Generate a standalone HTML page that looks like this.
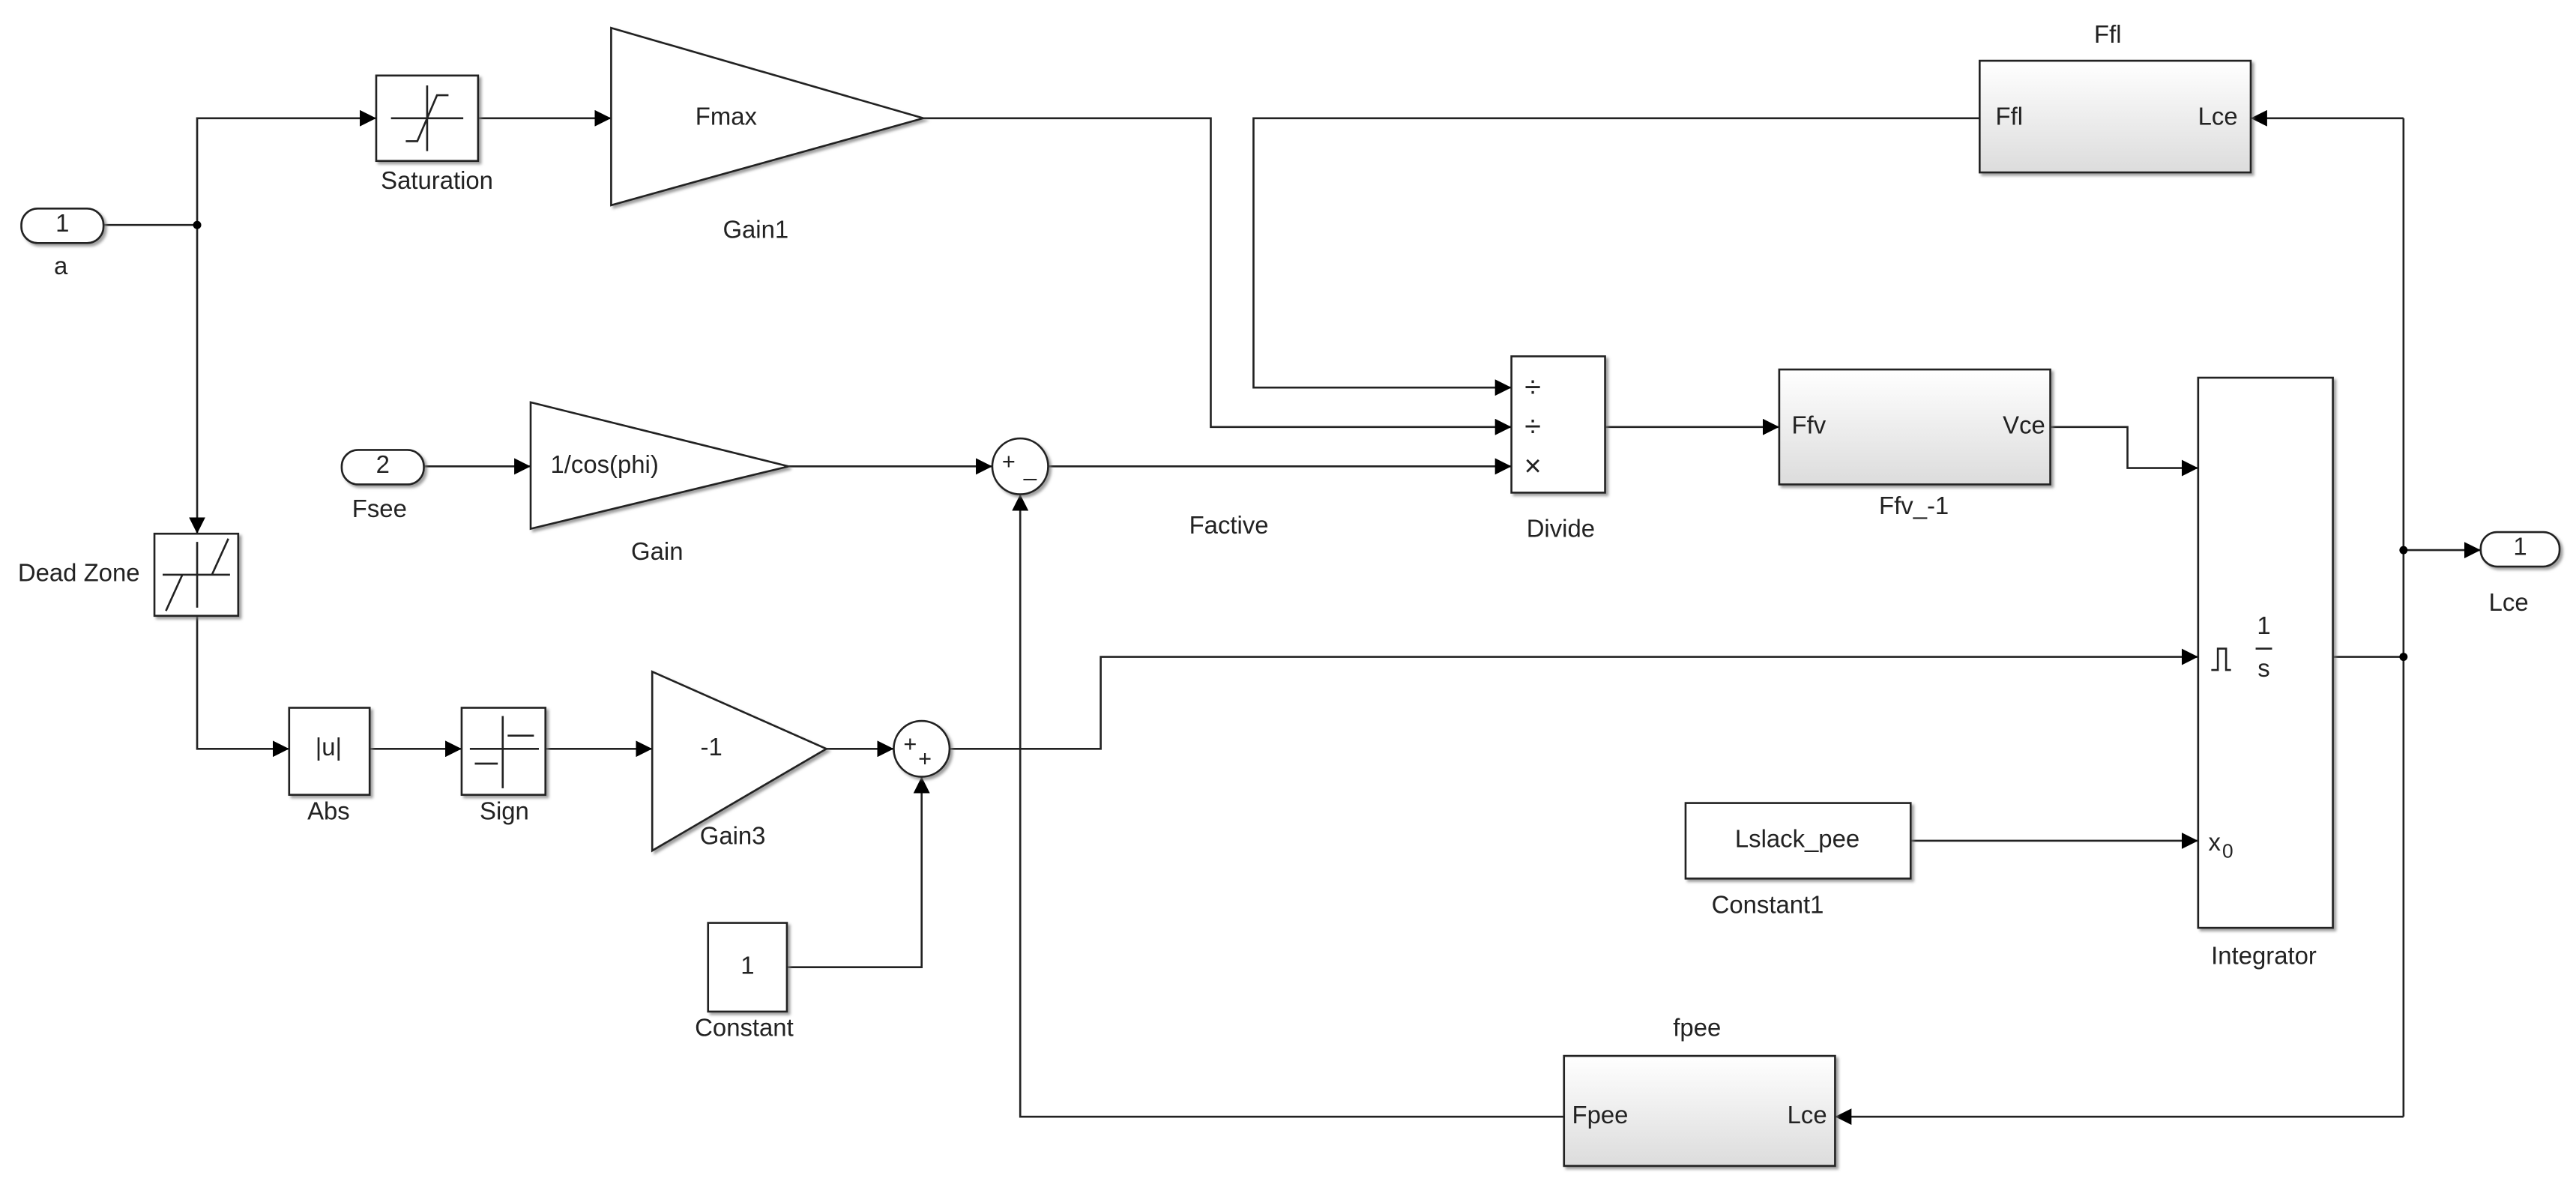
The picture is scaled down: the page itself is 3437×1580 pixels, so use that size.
<!DOCTYPE html>
<html><head><meta charset="utf-8"><style>
html,body{margin:0;padding:0;background:#fff}
svg{display:block}
text{font-family:"Liberation Sans",Arial,sans-serif;fill:#222}
</style></head><body>
<svg width="3437" height="1580" viewBox="0 0 1568 721" preserveAspectRatio="none" xmlns="http://www.w3.org/2000/svg">
<defs>
<marker id="a" viewBox="0 0 10 10" refX="10" refY="5" markerWidth="10" markerHeight="10" markerUnits="userSpaceOnUse" orient="auto"><path d="M0,0L10,5L0,10z" fill="#000"/></marker>
<linearGradient id="g" x1="0" y1="0" x2="0" y2="1"><stop offset="0" stop-color="#fff"/><stop offset="1" stop-color="#dcdcdc"/></linearGradient>
<filter id="sh" x="-10%" y="-10%" width="130%" height="130%"><feDropShadow dx="1.5" dy="1.5" stdDeviation="0.8" flood-color="#777" flood-opacity="0.7"/></filter>
</defs>
<g fill="none" stroke="#222" stroke-width="1.2">
<polyline points="63,137 120,137"/>
<polyline points="120,137 120,72 229,72" marker-end="url(#a)"/>
<polyline points="120,137 120,325" marker-end="url(#a)"/>
<polyline points="291,72 372,72" marker-end="url(#a)"/>
<polyline points="562,72 737,72 737,260 920,260" marker-end="url(#a)"/>
<polyline points="1205,72 763,72 763,236 920,236" marker-end="url(#a)"/>
<polyline points="638,284 920,284" marker-end="url(#a)"/>
<polyline points="977,260 1083,260" marker-end="url(#a)"/>
<polyline points="1248,260 1295,260 1295,285 1338,285" marker-end="url(#a)"/>
<polyline points="1420,400 1463,400"/>
<polyline points="1463,72 1463,680"/>
<polyline points="1463,72 1370,72" marker-end="url(#a)"/>
<polyline points="1463,335 1510,335" marker-end="url(#a)"/>
<polyline points="1463,680 1117,680" marker-end="url(#a)"/>
<polyline points="952,680 621,680 621,301" marker-end="url(#a)"/>
<polyline points="258,284 323,284" marker-end="url(#a)"/>
<polyline points="480,284 604,284" marker-end="url(#a)"/>
<polyline points="120,375 120,456 176,456" marker-end="url(#a)"/>
<polyline points="225,456 281,456" marker-end="url(#a)"/>
<polyline points="332,456 397,456" marker-end="url(#a)"/>
<polyline points="503,456 544,456" marker-end="url(#a)"/>
<polyline points="578,456 670,456 670,400 1338,400" marker-end="url(#a)"/>
<polyline points="479,589 561,589 561,473" marker-end="url(#a)"/>
<polyline points="1163,512 1338,512" marker-end="url(#a)"/>
</g>
<g fill="#000"><circle cx="120" cy="137" r="2.5"/><circle cx="1463" cy="335" r="2.5"/><circle cx="1463" cy="400" r="2.5"/></g>
<g stroke="#222" stroke-width="1.2" filter="url(#sh)">
<rect x="13" y="127" width="50" height="21" rx="10" fill="#fff"/>
<rect x="208" y="274" width="50" height="21" rx="10" fill="#fff"/>
<rect x="1510" y="324" width="48" height="21" rx="10" fill="#fff"/>
<rect x="229" y="46" width="62" height="52" fill="#fff"/>
<polygon points="372,17 562,72 372,125" fill="#fff"/>
<polygon points="323,245 480,284 323,322" fill="#fff"/>
<polygon points="397,409 503,456 397,518" fill="#fff"/>
<rect x="1205" y="37" width="165" height="68" fill="url(#g)"/>
<rect x="920" y="217" width="57" height="83" fill="#fff"/>
<rect x="1083" y="225" width="165" height="70" fill="url(#g)"/>
<rect x="1338" y="230" width="82" height="335" fill="#fff"/>
<rect x="952" y="643" width="165" height="67" fill="url(#g)"/>
<circle cx="621" cy="284" r="17" fill="#fff"/>
<circle cx="561" cy="456" r="17" fill="#fff"/>
<rect x="94" y="325" width="51" height="50" fill="#fff"/>
<rect x="176" y="431" width="49" height="53" fill="#fff"/>
<rect x="281" y="431" width="51" height="53" fill="#fff"/>
<rect x="431" y="562" width="48" height="54" fill="#fff"/>
<rect x="1026" y="489" width="137" height="46" fill="#fff"/>
</g>
<g fill="none" stroke="#222" stroke-width="1.2">
<path d="M238,72 L282,72 M260,52 L260,92 M247,86 L254,86 L266,58 L273,58"/>
<path d="M99,350 L140,350 M120,330 L120,370 M101,372 L111,350 M129,350 L139,328"/>
<path d="M286,456 L328,456 M306,436 L306,480 M289,465 L303,465 M309,448 L325,448"/>
<path d="M1346,408 L1350,408 L1350,395 L1355,395 L1355,408 L1358,408"/>
<path d="M1373,395 L1383,395"/>
</g>
<g font-size="15" text-anchor="middle" dominant-baseline="middle">
<text x="38" y="137">1</text><text x="37" y="163">a</text>
<text x="233" y="284">2</text><text x="231" y="311">Fsee</text>
<text x="1534" y="334">1</text><text x="1527" y="368">Lce</text>
<text x="266" y="111">Saturation</text>
<text x="442" y="72">Fmax</text><text x="460" y="141">Gain1</text>
<text x="368" y="284">1/cos(phi)</text><text x="400" y="337">Gain</text>
<text x="433" y="456">-1</text><text x="446" y="510">Gain3</text>
<text x="1283" y="22">Ffl</text>
<text x="1223" y="72">Ffl</text><text x="1350" y="72">Lce</text>
<text x="1101" y="260">Ffv</text><text x="1232" y="260">Vce</text>
<text x="1165" y="309">Ffv_-1</text>
<text x="950" y="323">Divide</text>
<text x="933" y="237" font-size="18">÷</text><text x="933" y="261" font-size="18">÷</text><text x="933" y="285" font-size="18">×</text>
<text x="748" y="321">Factive</text>
<text x="1378" y="583">Integrator</text>
<text x="1378" y="382">1</text><text x="1378" y="408">s</text>
<text x="1348" y="514">x</text><text x="1356" y="519" font-size="12">0</text>
<text x="1033" y="627">fpee</text>
<text x="974" y="680">Fpee</text><text x="1100" y="680">Lce</text>
<text x="48" y="350">Dead Zone</text>
<text x="200" y="456">|u|</text><text x="200" y="495">Abs</text>
<text x="307" y="495">Sign</text>
<text x="455" y="589">1</text><text x="453" y="627">Constant</text>
<text x="1094" y="512">Lslack_pee</text><text x="1076" y="552">Constant1</text>
<text x="614" y="282" font-size="14">+</text><text x="627" y="286" font-size="14">_</text>
<text x="554" y="454" font-size="14">+</text><text x="563" y="463" font-size="14">+</text>
</g>
</svg>
</body></html>
